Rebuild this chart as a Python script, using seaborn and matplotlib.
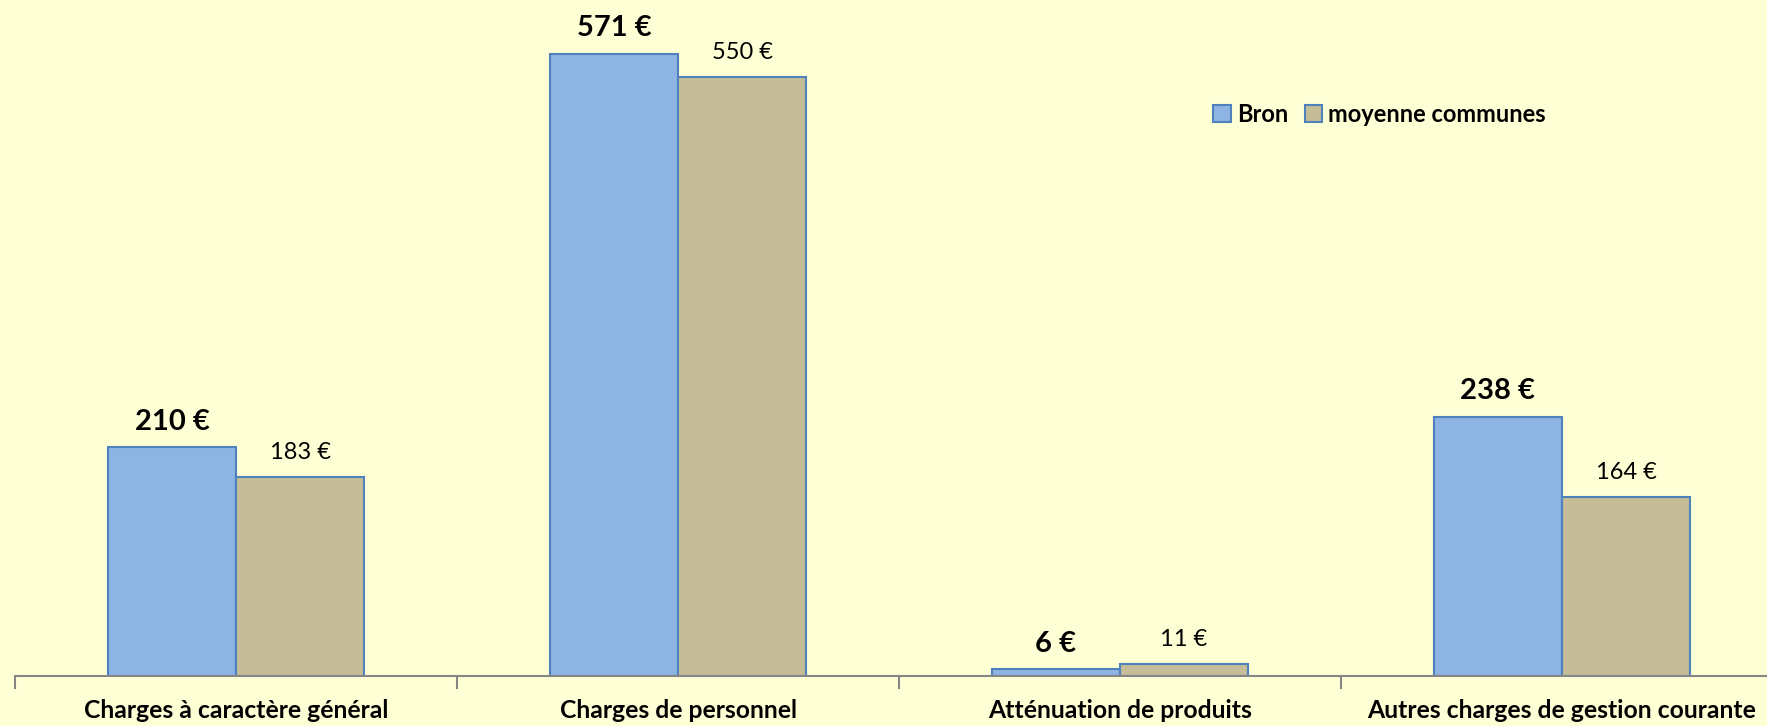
import pandas as pd
import matplotlib.pyplot as plt
import seaborn as sns

# données (euros par habitant)
categories = ['Charges à caractère général', 'Charges de personnel',
              'Atténuation de produits', 'Autres charges de gestion courante']
bron = [210, 571, 6, 238]
moyenne = [183, 550, 11, 164]
series = ['Bron', 'moyenne communes']

df = pd.DataFrame({
    'categorie': categories * 2,
    'valeur': bron + moyenne,
    'serie': [series[0]] * 4 + [series[1]] * 4,
})

bg = '#FFFFD6'
sns.set_style('white')
plt.rcParams['font.family'] = ['Lato', 'DejaVu Sans']
plt.rcParams['text.color'] = 'black'

fig = plt.figure(figsize=(17.67, 7.26), dpi=100, facecolor=bg)
ax = fig.add_axes([15 / 1767, 1 - 676 / 726, 1768 / 1767, 676 / 726])
ax.set_facecolor(bg)

sns.barplot(data=df, x='categorie', y='valeur', hue='serie', ax=ax,
            palette=['#8EB4E3', '#C4BD97'], width=0.58,
            edgecolor='#4F81BD', linewidth=1.5, saturation=1)

ax.set_xlim(-0.5, 3.5)
ax.set_ylim(0, 676 / 622 * 571)

# étiquettes de valeurs
ax.bar_label(ax.containers[0], labels=[f'{v} €' for v in bron],
             padding=9, fontsize=21, fontweight='bold', color='black')
ax.bar_label(ax.containers[1], labels=[f'{v} €' for v in moyenne],
             padding=10, fontsize=17, color='black')

for s in ['top', 'right', 'left']:
    ax.spines[s].set_visible(False)
ax.spines['bottom'].set_color('#868686')
ax.spines['bottom'].set_linewidth(1.5)
ax.set_yticks([])
ax.set_xlabel('')
ax.set_ylabel('')

# ticks entre les catégories
ax.set_xticks([-0.5, 0.5, 1.5, 2.5, 3.5])
ax.set_xticklabels([])
ax.tick_params(axis='x', bottom=True, length=9, width=1.5, color='#868686',
               direction='out')
for i, c in enumerate(categories):
    ax.text(i, -0.034, c, transform=ax.get_xaxis_transform(), ha='center',
            va='top', fontsize=17.8, fontweight='bold', color='black')

leg = ax.legend(loc='center left', bbox_to_anchor=(1192 / 1767, 1 - 114 / 726),
                bbox_transform=fig.transFigure, ncol=2, frameon=False,
                handlelength=0.75, handleheight=0.75, handletextpad=0.25,
                columnspacing=0.7, prop={'weight': 'bold', 'size': 17})
for t in leg.get_texts():
    t.set_color('black')

fig.savefig('out.png', dpi=100, facecolor=bg)
